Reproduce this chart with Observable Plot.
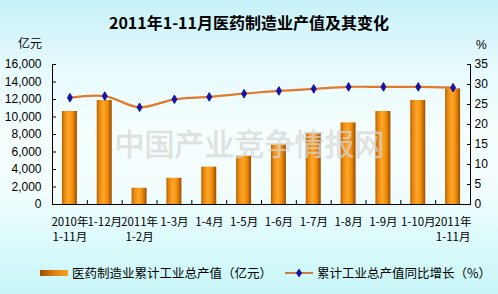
<!DOCTYPE html>
<html><head><meta charset="utf-8">
<script src="https://cdn.jsdelivr.net/npm/d3@7"></script>
<script src="https://cdn.jsdelivr.net/npm/@observablehq/plot@0.6"></script>
<style>
html,body{margin:0;padding:0;}
#wrap{position:relative;width:498px;height:294px;overflow:hidden;
 background:linear-gradient(to bottom,#c6f1f8 0%,#e6fafd 22%,#f6fefe 45%,#f2fdfd 65%,#dcfafb 82%,#c8f6f7 100%);
 font-family:"Noto Sans CJK SC",sans-serif;color:#000;}
#title{position:absolute;left:0;top:12px;width:498px;text-align:center;font-size:16px;line-height:20px;font-weight:bold;}
#unitL{position:absolute;left:18px;top:36px;font-size:12px;line-height:14px;}
#unitR{position:absolute;left:476px;top:38px;font-size:12px;line-height:14px;font-family:"Liberation Sans",Arial,sans-serif;}
#chart{position:absolute;left:0;top:36px;}
.leg{position:absolute;top:266px;font-size:12.5px;line-height:14px;white-space:nowrap;}
.legsw{position:absolute;}
</style></head><body>
<div id="wrap">
 <div id="title"></div>
 <div id="unitL"></div>
 <div id="unitR"></div>
 <div id="chart"></div>
 <svg class="legsw" style="left:40px;top:270px" width="28" height="6">
  <defs><linearGradient id="legGrad" x1="0" x2="1" y1="0" y2="0">
   <stop offset="0" stop-color="#9a4c00"/><stop offset="0.6" stop-color="#e88a10"/><stop offset="1" stop-color="#f7a020"/>
  </linearGradient></defs>
  <rect width="28" height="6" fill="url(#legGrad)"/>
 </svg>
 <span class="leg" id="leg1" style="left:72px"></span>
 <svg class="legsw" style="left:285px;top:267px" width="28" height="12">
  <line x1="0" x2="28" y1="6" y2="6" stroke="#c87a4a" stroke-width="2"/>
  <path d="M14,1.5 L17,6 L14,10.5 L11,6 Z" fill="#1414a8"/>
 </svg>
 <span class="leg" id="leg2" style="left:317px"></span>
</div>
<script>
const titleText = "2011年1-11月医药制造业产值及其变化";
const leftUnit = "亿元";
const rightUnit = "%";
const categories = ["2010年\n1-11月","1-12月","2011年\n1-2月","1-3月","1-4月","1-5月","1-6月","1-7月","1-8月","1-9月","1-10月","2011年\n1-11月"];
const output = [10630, 11890, 1860, 3000, 4270, 5520, 6860, 8150, 9330, 10630, 11890, 13220];
const growth = [26.7, 27.1, 24.3, 26.3, 26.9, 27.7, 28.4, 28.9, 29.4, 29.4, 29.4, 29.2];
const leftTicks = [0, 2000, 4000, 6000, 8000, 10000, 12000, 14000, 16000];
const rightTicks = [0, 5, 10, 15, 20, 25, 30, 35];
const seriesNames = ["医药制造业累计工业总产值（亿元）", "累计工业总产值同比增长（%）"];
const watermark = "中国产业竞争情报网";

document.getElementById("title").textContent = titleText;
document.getElementById("unitL").textContent = leftUnit;
document.getElementById("unitR").textContent = rightUnit;
document.getElementById("leg1").textContent = seriesNames[0];
document.getElementById("leg2").textContent = seriesNames[1];

const ratio = leftTicks[leftTicks.length-1] / rightTicks[rightTicks.length-1];
const data = categories.map((c, i) => ({i, label: c, value: output[i], pct: growth[i]}));
const plotH = 220, mTop = 28, mBottom = 52;
const innerH = plotH - mTop - mBottom;

const chart = Plot.plot({
  width: 498, height: plotH,
  marginTop: mTop, marginBottom: mBottom, marginLeft: 52, marginRight: 28,
  style: {background: "transparent", fontFamily: "'Liberation Sans', Arial, sans-serif", fontSize: "12px", color: "#000", overflow: "visible"},
  x: {type: "linear", domain: [-0.5, categories.length - 0.5], axis: null},
  y: {domain: [0, leftTicks[leftTicks.length-1]], axis: null},
  marks: [
    Plot.rectY(data, {x1: d => d.i - 0.215, x2: d => d.i + 0.215, y1: 0, y2: "value", fill: "url(#barGrad)"}),
    Plot.line(data, {x: "i", y: d => d.pct * ratio, curve: "catmull-rom", stroke: "#e27a2c", strokeWidth: 2.2}),
    Plot.dot(data, {x: "i", y: d => d.pct * ratio, symbol: "diamond", r: 2.6, fill: "#1414a8", stroke: "#1414a8", strokeWidth: 1}),
    Plot.text([watermark], {text: d => d, frameAnchor: "middle", dx: -12, dy: 11, fontSize: 30, fontFamily: "'Noto Sans CJK SC'", fill: "#d8d8d8", fillOpacity: 0.7, stroke: "#b8b8b8", strokeWidth: 0.5, strokeOpacity: 0.55}),
    Plot.frame({anchor: "left", stroke: "#000"}),
    Plot.frame({anchor: "right", stroke: "#000"}),
    Plot.frame({anchor: "bottom", stroke: "#000"}),
    Plot.tickX(data.slice(1), {x: d => d.i - 0.5, insetTop: innerH - 4, stroke: "#000"}),
    Plot.axisY(leftTicks, {anchor: "left", label: null, tickSize: -4, tickPadding: 15, tickFormat: d3.format(","), fontSize: 12, fill: "#000", stroke: "#000"}),
    Plot.axisY(rightTicks.map(v => v * ratio), {anchor: "right", label: null, tickSize: -4, tickPadding: 8, tickFormat: d => String(Math.round(d / ratio)), fontSize: 12, fill: "#000", stroke: "#000"}),
    Plot.text(data, {x: "i", text: "label", frameAnchor: "bottom", lineAnchor: "top", dy: 11, lineHeight: 1.3, fontSize: 11.5, fontFamily: "'Noto Sans CJK SC'", fill: "#000"})
  ]
});
const ns = "http://www.w3.org/2000/svg";
const defs = document.createElementNS(ns, "defs");
defs.innerHTML = `<linearGradient id="barGrad" x1="0" x2="1" y1="0" y2="0">
 <stop offset="0" stop-color="#b86000"/>
 <stop offset="0.18" stop-color="#e88a10"/>
 <stop offset="0.45" stop-color="#ffa62a"/>
 <stop offset="0.72" stop-color="#f08c0a"/>
 <stop offset="1" stop-color="#9a4c00"/>
</linearGradient>`;
chart.insertBefore(defs, chart.firstChild);
document.getElementById("chart").appendChild(chart);
</script>
</body></html>
